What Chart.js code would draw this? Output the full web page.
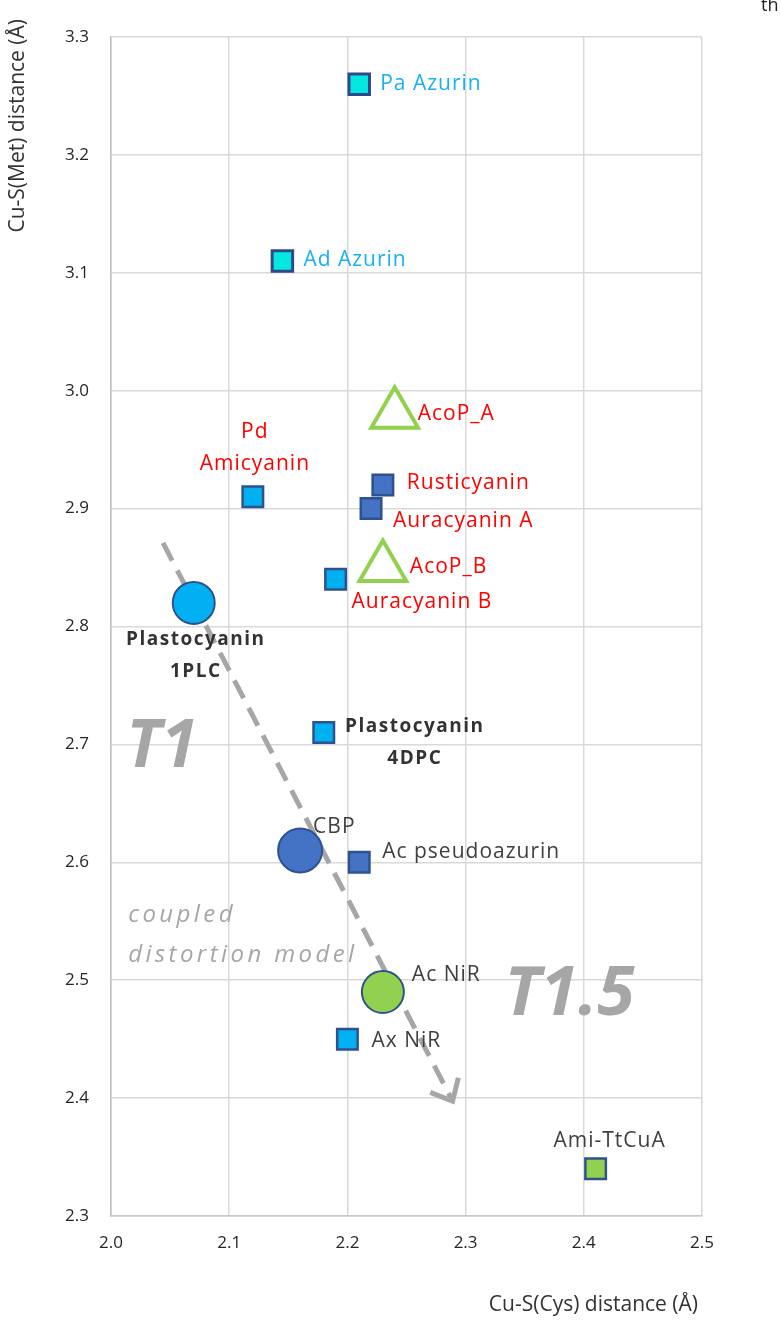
<!DOCTYPE html>
<html>
<head>
<meta charset="utf-8">
<script src="https://cdn.jsdelivr.net/npm/chart.js@4.4.1/dist/chart.umd.min.js"></script>
<style>
  html, body { margin: 0; padding: 0; background: #fff; }
  #wrap { width: 781px; height: 1328px; position: relative; }
</style>
</head>
<body>
<div id="wrap"><canvas id="chart"></canvas></div>
<script>
// Cu-S(Cys) vs Cu-S(Met) distances of blue copper sites

const proteins = ['Pa Azurin', 'Ad Azurin', 'Pd Amicyanin', 'Rusticyanin', 'Auracyanin A', 'AcoP_A', 'AcoP_B',
    'Auracyanin B', 'Plastocyanin 1PLC', 'Plastocyanin 4DPC', 'CBP', 'Ac pseudoazurin', 'Ac NiR', 'Ax NiR', 'Ami-TtCuA'];
const cuSCys = [2.21, 2.145, 2.12, 2.23, 2.22, 2.24, 2.23, 2.19, 2.07, 2.18, 2.16, 2.21, 2.23, 2.20, 2.41];
const cuSMet = [3.26, 3.11, 2.91, 2.92, 2.90, 2.98, 2.85, 2.84, 2.82, 2.71, 2.61, 2.60, 2.49, 2.45, 2.34];

const xTicks = [2.0, 2.1, 2.2, 2.3, 2.4, 2.5];
const yTicks = [2.3, 2.4, 2.5, 2.6, 2.7, 2.8, 2.9, 3.0, 3.1, 3.2, 3.3];

// coupled distortion trend: start and arrow tip
const trendCys = [2.044, 2.289];
const trendMet = [2.871, 2.3975];

const xTitle = 'Cu-S(Cys) distance (Å)';
const yTitle = 'Cu-S(Met) distance (Å)';

// marker looks
const CYAN = '#05E8DF', LIGHT = '#00B0F0', DARK = '#4472C4', GREEN = '#92D050', EDGE = '#2F528F';
const markerStyle = {
    'Pa Azurin':         { shape: 'rect', r: 14.5, fill: CYAN, edge: '#2F4A8A', bw: 3 },
    'Ad Azurin':         { shape: 'rect', r: 14.5, fill: CYAN, edge: '#2F4A8A', bw: 3 },
    'Pd Amicyanin':      { shape: 'rect', r: 14.5, fill: LIGHT, edge: EDGE, bw: 2.5 },
    'Rusticyanin':       { shape: 'rect', r: 14.5, fill: DARK, edge: EDGE, bw: 2.5 },
    'Auracyanin A':      { shape: 'rect', r: 14.5, fill: DARK, edge: EDGE, bw: 2.5 },
    'AcoP_A':            { shape: 'triangle', r: 27, fill: 'rgba(255,255,255,0)', edge: GREEN, bw: 4 },
    'AcoP_B':            { shape: 'triangle', r: 27, fill: 'rgba(255,255,255,0)', edge: GREEN, bw: 4 },
    'Auracyanin B':      { shape: 'rect', r: 14.5, fill: LIGHT, edge: EDGE, bw: 2.5 },
    'Plastocyanin 1PLC': { shape: 'circle', r: 21, fill: LIGHT, edge: EDGE, bw: 2 },
    'Plastocyanin 4DPC': { shape: 'rect', r: 14.5, fill: LIGHT, edge: EDGE, bw: 2.5 },
    'CBP':               { shape: 'circle', r: 22, fill: DARK, edge: EDGE, bw: 2 },
    'Ac pseudoazurin':   { shape: 'rect', r: 14.5, fill: DARK, edge: EDGE, bw: 2.5 },
    'Ac NiR':            { shape: 'circle', r: 21, fill: GREEN, edge: EDGE, bw: 2 },
    'Ax NiR':            { shape: 'rect', r: 14.5, fill: LIGHT, edge: EDGE, bw: 2.5 },
    'Ami-TtCuA':         { shape: 'rect', r: 14.5, fill: GREEN, edge: EDGE, bw: 2.5 }
};

// label placement, pixel offsets from the marker
const BLUE_TXT = '#1AAFF2', RED_TXT = '#FF0000', GREY_TXT = '#404040', BOLD_TXT = '#333333';
const labelStyle = {
    'Pa Azurin':         { color: BLUE_TXT, align: 'left', dx: 21, dy: 0 },
    'Ad Azurin':         { color: BLUE_TXT, align: 'left', dx: 21, dy: -1 },
    'Pd Amicyanin':      { color: RED_TXT, align: 'center', dx: 2, dy: -65, wrap: true },
    'Rusticyanin':       { color: RED_TXT, align: 'left', dx: 24, dy: -2 },
    'Auracyanin A':      { color: RED_TXT, align: 'left', dx: 22, dy: 12 },
    'AcoP_A':            { color: RED_TXT, align: 'left', dx: 23, dy: 0 },
    'AcoP_B':            { color: RED_TXT, align: 'left', dx: 27, dy: -1 },
    'Auracyanin B':      { color: RED_TXT, align: 'left', dx: 16, dy: 23 },
    'Plastocyanin 1PLC': { color: BOLD_TXT, align: 'center', dx: 2, dy: 37, wrap: true, bold: true },
    'Plastocyanin 4DPC': { color: BOLD_TXT, align: 'center', dx: 91, dy: -6, wrap: true, bold: true },
    'CBP':               { color: GREY_TXT, align: 'left', dx: 13, dy: -23 },
    'Ac pseudoazurin':   { color: GREY_TXT, align: 'left', dx: 23, dy: -10 },
    'Ac NiR':            { color: GREY_TXT, align: 'left', dx: 29, dy: -17 },
    'Ax NiR':            { color: GREY_TXT, align: 'left', dx: 24, dy: 2 },
    'Ami-TtCuA':         { color: GREY_TXT, align: 'center', dx: 14, dy: -28 }
};

// region notes, in data coordinates
const regionNotes = [
    { lines: ['T1'], x: 2.043, y: 2.697, font: 'italic 700 66px "Open Sans"', align: 'center', spacing: 0 },
    { lines: ['T1.5'], x: 2.388, y: 2.487, font: 'italic 700 68px "Open Sans"', align: 'center', spacing: 0 },
    { lines: ['coupled', 'distortion model'], x: 2.0145, y: 2.555, font: 'italic 400 24px "Open Sans"', align: 'left', spacing: 3.4, lh: 40 }
];

const points = proteins.map((p, i) => ({ x: cuSCys[i], y: cuSMet[i] }));
const trend = trendCys.map((x, i) => ({ x, y: trendMet[i] }));

const notesPlugin = {
    id: 'notes',
    beforeDatasetsDraw(chart) {
        const { ctx, scales: { x, y } } = chart;
        ctx.save();
        ctx.fillStyle = '#A6A6A6';
        ctx.textBaseline = 'middle';
        regionNotes.forEach(n => {
            ctx.font = n.font;
            ctx.textAlign = n.align;
            ctx.letterSpacing = n.spacing + 'px';
            n.lines.forEach((line, k) => ctx.fillText(line, x.getPixelForValue(n.x), y.getPixelForValue(n.y) + k * (n.lh || 0)));
        });
        ctx.restore();
    },
    afterDatasetsDraw(chart) {
        const { ctx, scales: { x, y } } = chart;
        // arrow head at end of trend line
        const x0 = x.getPixelForValue(trendCys[0]), y0 = y.getPixelForValue(trendMet[0]);
        const x1 = x.getPixelForValue(trendCys[1]), y1 = y.getPixelForValue(trendMet[1]);
        const back = Math.atan2(y0 - y1, x0 - x1);
        const len = 24, spread = 0.72;
        ctx.save();
        ctx.strokeStyle = '#A6A6A6';
        ctx.lineWidth = 5;
        ctx.beginPath();
        ctx.moveTo(x1 + Math.cos(back - spread) * len, y1 + Math.sin(back - spread) * len);
        ctx.lineTo(x1, y1);
        ctx.lineTo(x1 + Math.cos(back + spread) * len, y1 + Math.sin(back + spread) * len);
        ctx.stroke();

        // point labels
        const meta = chart.getDatasetMeta(1);
        ctx.textBaseline = 'middle';
        meta.data.forEach((pt, i) => {
            const lab = labelStyle[proteins[i]];
            ctx.font = lab.bold ? '700 19px "Open Sans"' : '21px "Open Sans"';
            ctx.letterSpacing = lab.bold ? '1.5px' : '1px';
            ctx.fillStyle = lab.color;
            ctx.textAlign = lab.align;
            const lines = lab.wrap ? proteins[i].split(' ') : [proteins[i]];
            lines.forEach((line, k) => ctx.fillText(line, pt.x + lab.dx, pt.y + lab.dy + k * 32));
        });

        // axis titles, placed like the original (x at the right, y at the top)
        ctx.font = '21px "Open Sans"';
        ctx.letterSpacing = '0px';
        ctx.fillStyle = '#333333';
        ctx.textAlign = 'right';
        ctx.fillText(xTitle, 698, 1305);
        ctx.translate(18, 19);
        ctx.rotate(-Math.PI / 2);
        ctx.fillText(yTitle, 0, 0);
        ctx.restore();

        // clipped caption fragment in the corner
        ctx.save();
        ctx.font = '18px "Open Sans"';
        ctx.fillStyle = '#222222';
        ctx.textBaseline = 'alphabetic';
        ctx.fillText('th', 761, 11);
        ctx.restore();
    }
};

const tickFont = { family: 'Open Sans', size: 17 };

new Chart(document.getElementById('chart'), {
    type: 'scatter',
    plugins: [notesPlugin],
    data: {
        datasets: [{
            type: 'line',
            data: trend,
            borderColor: '#A6A6A6',
            borderWidth: 5,
            borderDash: [20, 11],
            pointRadius: 0,
            fill: false,
            order: 2
        }, {
            data: points,
            pointStyle: proteins.map(p => markerStyle[p].shape),
            pointRadius: proteins.map(p => markerStyle[p].r),
            pointBackgroundColor: proteins.map(p => markerStyle[p].fill),
            pointBorderColor: proteins.map(p => markerStyle[p].edge),
            pointBorderWidth: proteins.map(p => markerStyle[p].bw),
            order: 1
        }]
    },
    options: {
        responsive: true,
        maintainAspectRatio: false,
        animation: false,
        layout: { padding: { left: 0, top: 37, right: 79, bottom: 0 } },
        plugins: {
            legend: { display: false },
            tooltip: { enabled: false }
        },
        scales: {
            x: {
                type: 'linear',
                min: 2.0,
                max: 2.5,
                afterBuildTicks: s => { s.ticks = xTicks.map(v => ({ value: v })); },
                afterFit: s => { s.height = 112; },
                grid: { color: '#D9D9D9', lineWidth: 1.5, drawTicks: false },
                border: { color: '#C8C8C8', width: 1.5 },
                ticks: { font: tickFont, color: '#262626', padding: 17, callback: v => v.toFixed(1) }
            },
            y: {
                type: 'linear',
                min: 2.3,
                max: 3.3,
                afterBuildTicks: s => { s.ticks = yTicks.map(v => ({ value: v })); },
                afterFit: s => { s.width = 111; },
                grid: { color: '#D9D9D9', lineWidth: 1.5, drawTicks: false },
                border: { color: '#BFBFBF', width: 1.5 },
                ticks: { font: tickFont, color: '#262626', padding: 22, callback: v => v.toFixed(1) }
            }
        }
    }
});
</script>
</body>
</html>
